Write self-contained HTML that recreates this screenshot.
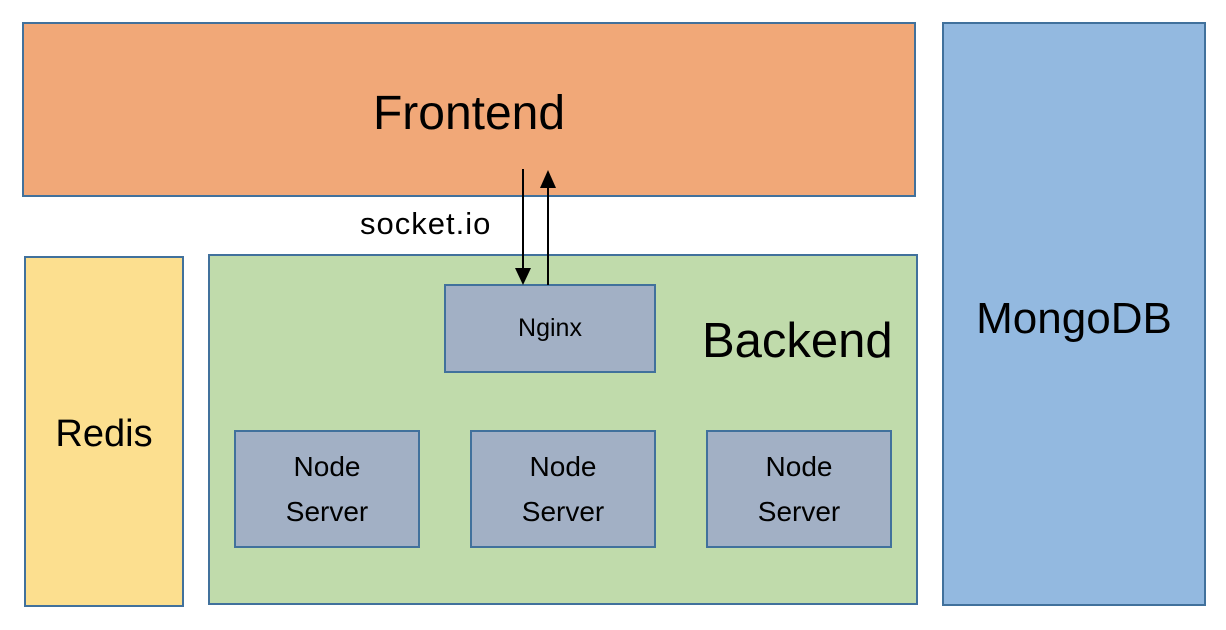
<!DOCTYPE html>
<html><head><style>
body{margin:0;width:1226px;height:630px;background:#fff;position:relative;font-family:"Liberation Sans",sans-serif;overflow:hidden}
.b{position:absolute;box-sizing:border-box;border:2px solid #41719c;display:flex;align-items:center;justify-content:center;text-align:center;color:#000}
</style></head><body>
<div class="b" style="left:22px;top:22px;width:894px;height:175px;background:#f1a878;font-size:48px;padding-top:8px">Frontend</div>
<div class="b" style="left:942px;top:22px;width:264px;height:584px;background:#93b9e0;font-size:44px;padding-top:10px">MongoDB</div>
<div class="b" style="left:24px;top:256px;width:160px;height:351px;background:#fcdf8f;font-size:38px;padding-top:6px">Redis</div>
<div class="b" style="left:208px;top:254px;width:710px;height:351px;background:#c0dbab"></div>
<div style="position:absolute;left:702px;top:313px;font-size:49px">Backend</div>
<div style="position:absolute;left:360px;top:206px;font-size:31px;letter-spacing:1px">socket.io</div>
<div class="b" style="left:444px;top:284px;width:212px;height:89px;background:#a2b0c5;font-size:25px">Nginx</div>
<div class="b" style="left:234px;top:430px;width:186px;height:118px;background:#a2b0c5;font-size:28px;line-height:45px">Node<br>Server</div>
<div class="b" style="left:470px;top:430px;width:186px;height:118px;background:#a2b0c5;font-size:28px;line-height:45px">Node<br>Server</div>
<div class="b" style="left:706px;top:430px;width:186px;height:118px;background:#a2b0c5;font-size:28px;line-height:45px">Node<br>Server</div>
<svg style="position:absolute;left:0;top:0" width="1226" height="630">
<line x1="523" y1="169" x2="523" y2="272" stroke="#000" stroke-width="2"/>
<polygon points="515,268 531,268 523,285" fill="#000"/>
<line x1="548" y1="185" x2="548" y2="285" stroke="#000" stroke-width="2"/>
<polygon points="540,188 556,188 548,170" fill="#000"/>
</svg>
</body></html>
